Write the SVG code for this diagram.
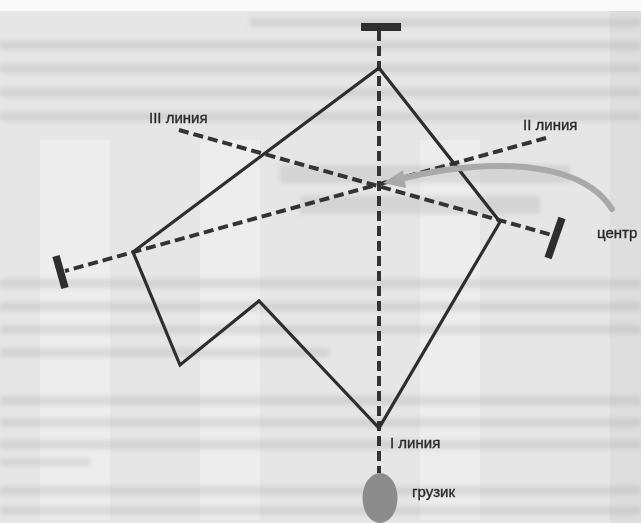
<svg xmlns="http://www.w3.org/2000/svg" width="641" height="523" viewBox="0 0 641 523">
  <style>
    .bleed { fill: #9a9a9a; opacity: 0.24; }
    .band { fill: #f2f2f2; opacity: 0.6; }
    .dash { fill: none; stroke: #333; stroke-width: 4; stroke-dasharray: 10 5; }
    .solid { fill: none; stroke: #2e2e2e; stroke-width: 3.2; stroke-linejoin: miter; stroke-miterlimit: 10; }
    .bar { stroke: #2e2e2e; stroke-width: 7.5; }
    .lbl { font-family: "Liberation Sans", Arial, sans-serif; font-size: 15px; fill: #2a2a2a; stroke: #2a2a2a; stroke-width: 0.35; }
  </style>
  <defs>
    <filter id="blur" x="-5%" y="-50%" width="110%" height="200%">
      <feGaussianBlur stdDeviation="2"/>
    </filter>
  </defs>

  <!-- background page scan -->
  <g id="background">
    <rect x="0" y="0" width="641" height="523" fill="#e6e6e6"/>
    <rect x="0" y="0" width="641" height="11" fill="#fafafa"/>
    <rect class="band" x="40" y="140" width="70" height="380"/>
    <rect class="band" x="200" y="140" width="60" height="380"/>
    <rect class="band" x="420" y="140" width="60" height="380"/>
    <rect x="610" y="11" width="31" height="512" fill="#d6d6d6" opacity="0.5"/>
    <g filter="url(#blur)">
      <rect class="bleed" x="250" y="18" width="391" height="9"/>
      <rect class="bleed" x="0" y="41" width="641" height="9"/>
      <rect class="bleed" x="0" y="64" width="641" height="9"/>
      <rect class="bleed" x="0" y="88" width="641" height="9"/>
      <rect class="bleed" x="0" y="112" width="641" height="9"/>
      <rect class="bleed" x="280" y="165" width="290" height="18" opacity="0.12"/>
      <rect class="bleed" x="300" y="196" width="240" height="18" opacity="0.12"/>
      <rect class="bleed" x="0" y="279" width="641" height="9"/>
      <rect class="bleed" x="0" y="302" width="641" height="9"/>
      <rect class="bleed" x="0" y="325" width="641" height="9"/>
      <rect class="bleed" x="0" y="348" width="330" height="9"/>
      <rect class="bleed" x="0" y="396" width="641" height="9"/>
      <rect class="bleed" x="0" y="418" width="641" height="9"/>
      <rect class="bleed" x="0" y="440" width="641" height="9"/>
      <rect class="bleed" x="0" y="458" width="90" height="8"/>
      <rect class="bleed" x="0" y="486" width="641" height="9"/>
      <rect class="bleed" x="0" y="506" width="641" height="9"/>
    </g>
  </g>

  <!-- connectors: plumb lines, figure outline, pointer -->
  <g id="connectors">
    <line class="dash" x1="379" y1="31" x2="379" y2="473"/>
    <line class="dash" x1="546" y1="138" x2="65" y2="271"/>
    <line class="dash" x1="179" y1="130" x2="552" y2="235"/>
    <polygon class="solid" points="379,68 500,222 379,428 259,301 180,365 133,252"/>
    <path d="M612 209 C 586 168 520 160 445 170 C 425 173 412 176 400 179" fill="none" stroke="#a9a9a9" stroke-width="6" stroke-linecap="round"/>
    <polygon points="383,183 403,170 406,188" fill="#a9a9a9"/>
  </g>

  <g id="bar-top">
    <rect x="361" y="23" width="40" height="8" fill="#2e2e2e"/>
  </g>
  <g id="bar-right">
    <line class="bar" x1="562" y1="218" x2="548" y2="258"/>
  </g>
  <g id="bar-left">
    <line class="bar" x1="56" y1="256" x2="65" y2="288"/>
  </g>

  <g id="weight">
    <ellipse cx="380" cy="498" rx="17.5" ry="25" fill="#8c8c8c"/>
  </g>

  <g id="label-line3"><text class="lbl" x="149" y="123">III линия</text></g>
  <g id="label-line2"><text class="lbl" x="523" y="130">II линия</text></g>
  <g id="label-center"><text class="lbl" x="597" y="238">центр</text></g>
  <g id="label-line1"><text class="lbl" x="390" y="448">I линия</text></g>
  <g id="label-weight"><text class="lbl" x="412" y="497">грузик</text></g>
</svg>
